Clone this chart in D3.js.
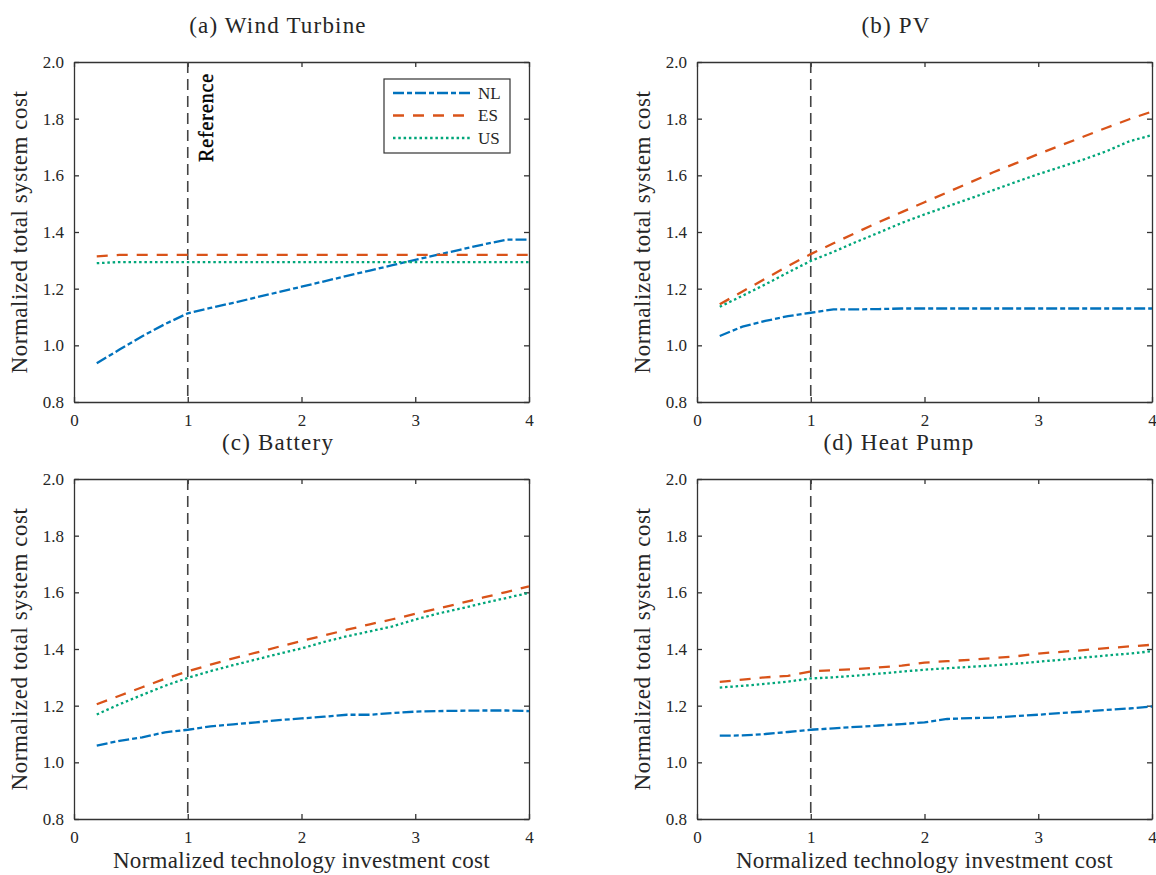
<!DOCTYPE html>
<html>
<head>
<meta charset="utf-8">
<title>Normalized total system cost</title>
<script src="https://d3js.org/d3.v7.min.js"></script>
<style>
body { margin:0; background:#fff; }
svg text { font-family: "Liberation Serif", serif; fill:#262626; }
.axis path, .axis line { stroke:#333; stroke-width:1.3; }
</style>
</head>
<body>
<svg width="1156" height="875"></svg>
<script>
// data
var xVals = [0.2,0.4,0.6,0.8,1.0,1.2,1.4,1.6,1.8,2.0,2.2,2.4,2.6,2.8,3.0,3.2,3.4,3.6,3.8,4.0];

var windNL = [0.937,0.985,1.032,1.075,1.113,1.132,1.150,1.169,1.188,1.207,1.226,1.245,1.264,1.283,1.302,1.320,1.338,1.356,1.373,1.373];
var windES = [1.314,1.319,1.319,1.319,1.319,1.319,1.319,1.319,1.319,1.319,1.319,1.319,1.319,1.319,1.319,1.319,1.319,1.319,1.319,1.319];
var windUS = [1.290,1.294,1.294,1.294,1.294,1.294,1.294,1.294,1.294,1.294,1.294,1.294,1.294,1.294,1.294,1.294,1.294,1.294,1.294,1.294];

var pvNL = [1.033,1.066,1.086,1.103,1.115,1.127,1.127,1.128,1.130,1.130,1.130,1.130,1.130,1.130,1.130,1.130,1.130,1.130,1.130,1.130];
var pvES = [1.145,1.190,1.235,1.280,1.322,1.360,1.398,1.435,1.470,1.505,1.540,1.575,1.610,1.642,1.675,1.706,1.737,1.768,1.798,1.825];
var pvUS = [1.136,1.175,1.215,1.257,1.298,1.330,1.365,1.398,1.432,1.462,1.490,1.518,1.547,1.576,1.604,1.630,1.656,1.685,1.720,1.742];

var batNL = [1.059,1.076,1.088,1.106,1.115,1.127,1.134,1.141,1.149,1.155,1.161,1.168,1.168,1.174,1.179,1.181,1.182,1.183,1.183,1.181];
var batES = [1.205,1.235,1.265,1.295,1.321,1.345,1.367,1.387,1.408,1.428,1.448,1.468,1.487,1.505,1.524,1.543,1.562,1.582,1.601,1.621];
var batUS = [1.169,1.205,1.238,1.270,1.298,1.322,1.343,1.363,1.383,1.402,1.425,1.445,1.462,1.480,1.504,1.525,1.543,1.562,1.580,1.598];

var hpNL = [1.094,1.095,1.100,1.107,1.115,1.120,1.125,1.130,1.135,1.141,1.153,1.156,1.158,1.163,1.168,1.174,1.179,1.185,1.190,1.197];
var hpES = [1.284,1.292,1.300,1.305,1.321,1.325,1.329,1.335,1.341,1.352,1.357,1.362,1.368,1.374,1.384,1.390,1.396,1.403,1.409,1.415];
var hpUS = [1.264,1.270,1.277,1.285,1.296,1.300,1.306,1.313,1.320,1.327,1.332,1.337,1.342,1.348,1.355,1.362,1.370,1.377,1.384,1.392];

var countries = ["NL","ES","US"];
var panelTitles = ["(a) Wind Turbine","(b) PV","(c) Battery","(d) Heat Pump"];
var xTicks = [0,1,2,3,4];
var yTicks = [0.8,1.0,1.2,1.4,1.6,1.8,2.0];
var referenceX = 1;

var panelData = [
  [windNL, windES, windUS],
  [pvNL, pvES, pvUS],
  [batNL, batES, batUS],
  [hpNL, hpES, hpUS]
];

// styles
var colors = {NL:"#0072BD", ES:"#D95319", US:"#00A67A"};
var dashes = {NL:"11,3,5,3", ES:"11,9", US:"2.5,2.8"};
var serif = '"Liberation Serif", serif';

var W = 455, H = 340;
var origins = [[74,62],[697,62],[74,479],[697,479]];
var titleX = [278, 896, 278, 899];

var svg = d3.select("svg");

var x = d3.scaleLinear().domain([0,4]).range([0,W]);
var y = d3.scaleLinear().domain([0.8,2.0]).range([H,0]);

var line = d3.line()
    .x(function(d){ return x(d[0]); })
    .y(function(d){ return y(d[1]); });

panelData.forEach(function(series, p) {
  var g = svg.append("g").attr("transform","translate(" + origins[p][0] + "," + origins[p][1] + ")");

  // axes, ticks pointing inward on all four sides
  g.append("g").attr("class","axis").attr("transform","translate(0," + H + ")")
    .call(d3.axisBottom(x).tickValues(xTicks).tickSize(-5).tickSizeOuter(0).tickPadding(12).tickFormat(d3.format("d")));
  g.append("g").attr("class","axis")
    .call(d3.axisTop(x).tickValues(xTicks).tickSize(-5).tickSizeOuter(0).tickFormat(""));
  g.append("g").attr("class","axis")
    .call(d3.axisLeft(y).tickValues(yTicks).tickSize(-5).tickSizeOuter(0).tickPadding(10).tickFormat(d3.format(".1f")));
  g.append("g").attr("class","axis").attr("transform","translate(" + W + ",0)")
    .call(d3.axisRight(y).tickValues(yTicks).tickSize(-5).tickSizeOuter(0).tickFormat(""));
  g.selectAll(".axis").attr("font-family", null).attr("font-size", null);
  g.selectAll(".axis text").style("font-family", serif).style("font-size","17px").style("fill","#262626");

  // reference line
  g.append("line")
    .attr("x1", x(referenceX)).attr("x2", x(referenceX))
    .attr("y1", 0).attr("y2", H)
    .attr("stroke","#444").attr("stroke-width",1.6)
    .attr("stroke-dasharray","11,6");

  countries.forEach(function(c, i) {
    var pts = xVals.map(function(v, k){ return [v, series[i][k]]; });
    g.append("path")
      .datum(pts)
      .attr("d", line)
      .attr("fill","none")
      .attr("stroke", colors[c])
      .attr("stroke-width", 2.3)
      .attr("stroke-dasharray", dashes[c]);
  });

  // title
  svg.append("text")
    .attr("x", titleX[p]).attr("y", origins[p][1] - 29)
    .attr("text-anchor","middle")
    .style("font-family", serif).style("font-size","23px").style("letter-spacing","1.2px")
    .text(panelTitles[p]);

  // y label
  svg.append("text")
    .attr("transform","translate(" + (origins[p][0] - 47) + "," + (origins[p][1] + H/2) + ") rotate(-90)")
    .attr("text-anchor","middle")
    .style("font-family", serif).style("font-size","23px").style("letter-spacing","0.55px")
    .text("Normalized total system cost");

  // x label only on bottom row
  if (p >= 2) {
    g.append("text")
      .attr("x", W/2).attr("y", H + 49)
      .attr("text-anchor","middle")
      .style("font-family", serif).style("font-size","23px").style("letter-spacing","0.3px")
      .text("Normalized technology investment cost");
  }

  if (p == 0) {
    g.append("text")
      .attr("transform","translate(" + (x(referenceX) + 25) + ",100) rotate(-90)")
      .style("font-family", serif).style("font-size","20px").style("letter-spacing","0.9px")
      .style("fill","#000").attr("stroke","#000").attr("stroke-width",0.4)
      .text("Reference");

    // legend
    var lg = g.append("g").attr("transform","translate(310,17)");
    lg.append("rect").attr("width",126).attr("height",74)
      .attr("fill","#fff").attr("stroke","#333").attr("stroke-width",1.2);
    countries.forEach(function(c, i) {
      var ly = 14 + i * 22.5;
      lg.append("line").attr("x1",9).attr("x2",86).attr("y1",ly).attr("y2",ly)
        .attr("stroke",colors[c]).attr("stroke-width",2.3).attr("stroke-dasharray",dashes[c]);
      lg.append("text").attr("x",94).attr("y",ly).attr("dy","0.35em")
        .style("font-family", serif).style("font-size","17px").text(c);
    });
  }
});
</script>
</body>
</html>
